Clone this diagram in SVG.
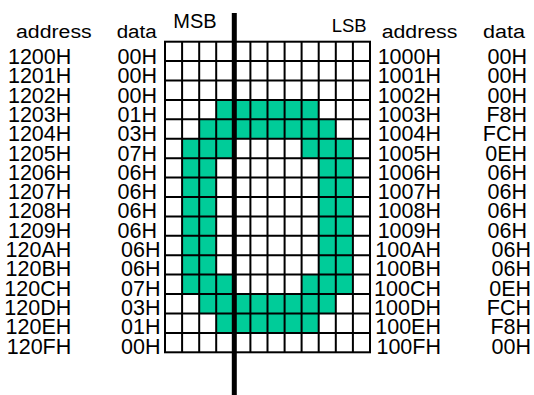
<svg xmlns="http://www.w3.org/2000/svg" width="534" height="395" viewBox="0 0 534 395">
<style>
text{font-family:"Liberation Sans",Arial,sans-serif;fill:#000}
.h{font-size:18px}
.r{font-size:21.5px;text-anchor:end}
.on{fill:#00CC99}
.g{stroke:#000;stroke-width:2;fill:none}
</style>
<rect width="534" height="395" fill="#fff"/>
<g id="headers">
<text class="h" x="16" y="37.5" textLength="75.7" lengthAdjust="spacingAndGlyphs">address</text>
<text class="h" x="116.7" y="37.5" textLength="40" lengthAdjust="spacingAndGlyphs">data</text>
<text class="h" x="381.7" y="37.5" textLength="75.7" lengthAdjust="spacingAndGlyphs">address</text>
<text class="h" x="483" y="37.5" textLength="42" lengthAdjust="spacingAndGlyphs">data</text>
<text x="173.3" y="27.7" font-size="20">MSB</text>
<text x="331.7" y="31.7" font-size="18.5">LSB</text>
</g>
<g id="cells">
<!-- x0=165 w=17.08 ; y0=41.7 h=19.41 -->
<!-- row3 -->
<rect class="on" x="216.2" y="99.9" width="102.5" height="19.4"/>
<!-- row4 -->
<rect class="on" x="199.2" y="119.3" width="136.6" height="19.4"/>
<!-- row5 -->
<rect class="on" x="182.1" y="138.8" width="51.2" height="19.4"/>
<rect class="on" x="301.6" y="138.8" width="51.3" height="19.4"/>
<!-- rows 6-11 -->
<rect class="on" x="182.1" y="158.2" width="34.2" height="116.5"/>
<rect class="on" x="318.7" y="158.2" width="34.2" height="116.5"/>
<!-- row12 -->
<rect class="on" x="182.1" y="274.6" width="51.2" height="19.4"/>
<rect class="on" x="301.6" y="274.6" width="51.3" height="19.4"/>
<!-- row13 -->
<rect class="on" x="199.2" y="294.0" width="136.6" height="19.4"/>
<!-- row14 -->
<rect class="on" x="216.2" y="313.4" width="102.5" height="19.4"/>
</g>
<g id="grid" class="g">
<rect x="165" y="41.7" width="205" height="310.6"/>
<path d="M182.1 41.7V352.3M199.2 41.7V352.3M216.2 41.7V352.3M233.3 41.7V352.3M250.4 41.7V352.3M267.5 41.7V352.3M284.6 41.7V352.3M301.6 41.7V352.3M318.7 41.7V352.3M335.8 41.7V352.3M352.9 41.7V352.3"/>
<path d="M165 61.1H370M165 80.5H370M165 99.9H370M165 119.3H370M165 138.8H370M165 158.2H370M165 177.6H370M165 197H370M165 216.4H370M165 235.8H370M165 255.2H370M165 274.6H370M165 294H370M165 313.4H370M165 332.9H370"/>
</g>
<g id="divider">
<line x1="234.3" y1="13" x2="234.3" y2="395" stroke="#000" stroke-width="5"/>
</g>
<g id="left-address" class="r">
<text class="r" x="71.3" y="64">1200H</text>
<text class="r" x="71.3" y="83.3">1201H</text>
<text class="r" x="71.3" y="102.6">1202H</text>
<text class="r" x="71.3" y="121.9">1203H</text>
<text class="r" x="71.3" y="141.2">1204H</text>
<text class="r" x="71.3" y="160.5">1205H</text>
<text class="r" x="71.3" y="179.8">1206H</text>
<text class="r" x="71.3" y="199.1">1207H</text>
<text class="r" x="71.3" y="218.4">1208H</text>
<text class="r" x="71.3" y="237.7">1209H</text>
<text class="r" x="71.3" y="257">120AH</text>
<text class="r" x="71.3" y="276.3">120BH</text>
<text class="r" x="71.3" y="295.6">120CH</text>
<text class="r" x="71.3" y="314.9">120DH</text>
<text class="r" x="71.3" y="334.2">120EH</text>
<text class="r" x="71.3" y="353.5">120FH</text>
</g>
<g id="left-data">
<text class="r" x="157" y="64">00H</text>
<text class="r" x="157" y="83.3">00H</text>
<text class="r" x="157" y="102.6">00H</text>
<text class="r" x="157" y="121.9">01H</text>
<text class="r" x="157" y="141.2">03H</text>
<text class="r" x="157" y="160.5">07H</text>
<text class="r" x="157" y="179.8">06H</text>
<text class="r" x="157" y="199.1">06H</text>
<text class="r" x="157" y="218.4">06H</text>
<text class="r" x="157" y="237.7">06H</text>
<text class="r" x="160.5" y="257">06H</text>
<text class="r" x="160.5" y="276.3">06H</text>
<text class="r" x="160.5" y="295.6">07H</text>
<text class="r" x="160.5" y="314.9">03H</text>
<text class="r" x="160.5" y="334.2">01H</text>
<text class="r" x="160.5" y="353.5">00H</text>
</g>
<g id="right-address">
<text class="r" x="441" y="64">1000H</text>
<text class="r" x="441" y="83.3">1001H</text>
<text class="r" x="441" y="102.6">1002H</text>
<text class="r" x="441" y="121.9">1003H</text>
<text class="r" x="441" y="141.2">1004H</text>
<text class="r" x="441" y="160.5">1005H</text>
<text class="r" x="441" y="179.8">1006H</text>
<text class="r" x="441" y="199.1">1007H</text>
<text class="r" x="441" y="218.4">1008H</text>
<text class="r" x="441" y="237.7">1009H</text>
<text class="r" x="441" y="257">100AH</text>
<text class="r" x="441" y="276.3">100BH</text>
<text class="r" x="441" y="295.6">100CH</text>
<text class="r" x="441" y="314.9">100DH</text>
<text class="r" x="441" y="334.2">100EH</text>
<text class="r" x="441" y="353.5">100FH</text>
</g>
<g id="right-data">
<text class="r" x="527" y="64">00H</text>
<text class="r" x="527" y="83.3">00H</text>
<text class="r" x="527" y="102.6">00H</text>
<text class="r" x="527" y="121.9">F8H</text>
<text class="r" x="527" y="141.2">FCH</text>
<text class="r" x="527" y="160.5">0EH</text>
<text class="r" x="527" y="179.8">06H</text>
<text class="r" x="527" y="199.1">06H</text>
<text class="r" x="527" y="218.4">06H</text>
<text class="r" x="527" y="237.7">06H</text>
<text class="r" x="531" y="257">06H</text>
<text class="r" x="531" y="276.3">06H</text>
<text class="r" x="531" y="295.6">0EH</text>
<text class="r" x="531" y="314.9">FCH</text>
<text class="r" x="531" y="334.2">F8H</text>
<text class="r" x="531" y="353.5">00H</text>
</g>
</svg>
